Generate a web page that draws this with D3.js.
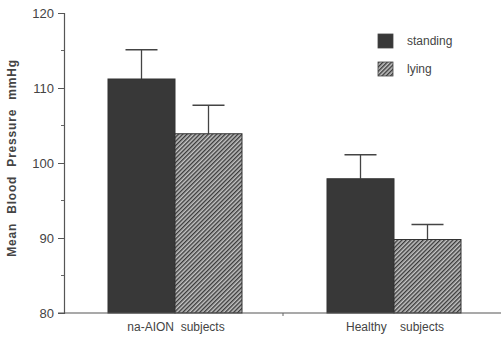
<!DOCTYPE html>
<html>
<head>
<meta charset="utf-8">
<script src="https://cdn.jsdelivr.net/npm/d3@7"></script>
<style>
  body { margin: 0; background: #fff; }
  text { font-family: "Liberation Sans", Arial, sans-serif; fill: #444; }
</style>
</head>
<body>
<svg id="chart" width="501" height="340"></svg>
<script>
// data
const groups = ["na-AION  subjects", "Healthy    subjects"];
const series = ["standing", "lying"];
const standing = [111.2, 97.9];
const lying = [103.9, 89.8];
const standingErr = [3.9, 3.2];
const lyingErr = [3.8, 2.0];
const yTicks = [80, 90, 100, 110, 120];

const svg = d3.select("#chart");

// hatch pattern for the "lying" bars
const defs = svg.append("defs");
const pat = defs.append("pattern")
    .attr("id", "hatch")
    .attr("patternUnits", "userSpaceOnUse")
    .attr("width", 3)
    .attr("height", 3)
    .attr("patternTransform", "rotate(45)");
pat.append("rect").attr("width", 3).attr("height", 3).attr("fill", "#c4c4c4");
pat.append("rect").attr("width", 1.4).attr("height", 3).attr("fill", "#3a3a3a");

const fills = { standing: "#383838", lying: "url(#hatch)" };

const y = d3.scaleLinear().domain([80, 120]).range([313, 13]);
const x0 = d3.scalePoint().domain(groups).range([66.5, 504.5]).padding(0.5);
const x1 = d3.scaleBand().domain(series).range([-68, 66]);

const rows = groups.map((g, i) => ({
    group: g,
    vals: [
        { key: "standing", v: standing[i], e: standingErr[i] },
        { key: "lying", v: lying[i], e: lyingErr[i] }
    ]
}));

// y axis
const yAxis = d3.axisLeft(y).tickValues(yTicks).tickSize(6).tickPadding(4).tickFormat(d3.format("d"));
const yAxisG = svg.append("g").attr("transform", "translate(64,0)").call(yAxis);
yAxisG.select(".domain").attr("stroke", "#555").attr("stroke-width", 1.2);
yAxisG.selectAll(".tick line").attr("stroke", "#555");
yAxisG.selectAll(".tick text").style("font-size", "13px").attr("fill", "#444");

// minor ticks
svg.append("g").selectAll("line")
    .data([85, 95, 105, 115])
    .join("line")
    .attr("x1", 61).attr("x2", 64)
    .attr("y1", d => y(d)).attr("y2", d => y(d))
    .attr("stroke", "#666");

// y title
svg.append("text")
    .attr("transform", `translate(16,158) rotate(-90)`)
    .attr("text-anchor", "middle")
    .style("font-size", "12px")
    .style("font-weight", "bold")
    .style("letter-spacing", "0.8px")
    .style("word-spacing", "5px")
    .attr("fill", "#333")
    .text("Mean Blood Pressure mmHg");

// bars
const g = svg.append("g").selectAll("g")
    .data(rows)
    .join("g")
    .attr("transform", d => `translate(${x0(d.group)},0)`);

g.selectAll("line.err")
    .data(d => d.vals)
    .join("line")
    .attr("class", "err")
    .attr("x1", d => x1(d.key) + x1.bandwidth() / 2)
    .attr("x2", d => x1(d.key) + x1.bandwidth() / 2)
    .attr("y1", d => y(d.v))
    .attr("y2", d => y(d.v + d.e))
    .attr("stroke", "#444").attr("stroke-width", 1.3);

g.selectAll("line.cap")
    .data(d => d.vals)
    .join("line")
    .attr("class", "cap")
    .attr("x1", d => x1(d.key) + x1.bandwidth() / 2 - 16)
    .attr("x2", d => x1(d.key) + x1.bandwidth() / 2 + 16)
    .attr("y1", d => y(d.v + d.e))
    .attr("y2", d => y(d.v + d.e))
    .attr("stroke", "#444").attr("stroke-width", 1.3);

g.selectAll("rect")
    .data(d => d.vals)
    .join("rect")
    .attr("x", d => x1(d.key))
    .attr("width", x1.bandwidth())
    .attr("y", d => y(d.v))
    .attr("height", d => y(80) - y(d.v))
    .attr("fill", d => fills[d.key])
    .attr("stroke", "#333").attr("stroke-width", 1);

// baseline (x axis)
const xAxisG = svg.append("g").attr("transform", `translate(0,${y(80)})`);
xAxisG.append("line").attr("x1", 58).attr("x2", 501).attr("stroke", "#555").attr("stroke-width", 1.2);
xAxisG.append("line").attr("x1", 283).attr("x2", 283).attr("y1", 0).attr("y2", 3).attr("stroke", "#666");
xAxisG.selectAll("text")
    .data(groups)
    .join("text")
    .attr("x", d => x0(d))
    .attr("y", 18)
    .attr("text-anchor", "middle")
    .style("font-size", "12px")
    .style("white-space", "pre")
    .text(d => d);

// legend
const legend = svg.append("g").attr("transform", "translate(378,34)");
const li = legend.selectAll("g")
    .data(series)
    .join("g")
    .attr("transform", (d, i) => `translate(0,${i * 28})`);
li.append("rect")
    .attr("width", 15).attr("height", 14)
    .attr("fill", d => fills[d])
    .attr("stroke", "#444").attr("stroke-width", 0.8);
li.append("text")
    .attr("x", 29).attr("y", 11)
    .style("font-size", "12px")
    .text(d => d);
</script>
</body>
</html>
